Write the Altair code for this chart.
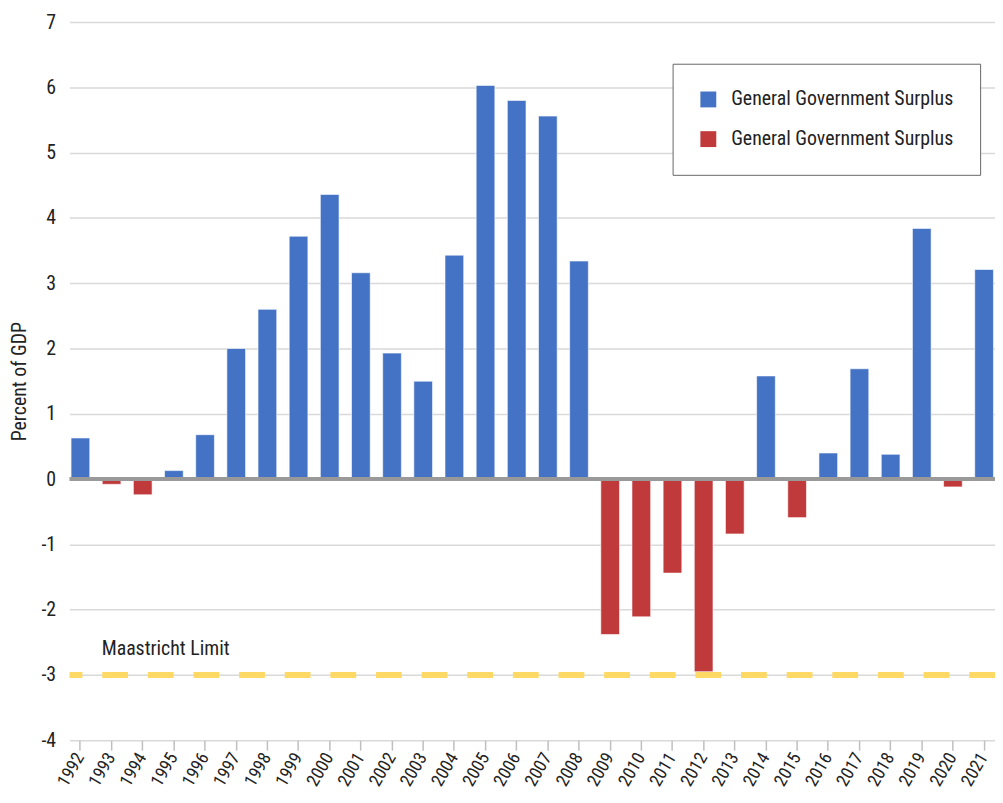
import altair as alt
import pandas as pd

years = [str(y) for y in range(1992, 2022)]
values = [0.63, -0.08, -0.24, 0.13, 0.68, 2.0, 2.6, 3.72, 4.36, 3.16,
          1.93, 1.5, 3.43, 6.03, 5.8, 5.56, 3.34, -2.38, -2.11, -1.44,
          -2.95, -0.84, 1.58, -0.59, 0.4, 1.69, 0.38, 3.84, -0.12, 3.21]
limit = -3
limit_label = "Maastricht Limit"
series_label = "General Government Surplus"

df = pd.DataFrame({"year": years, "value": values})
df["sign"] = ["pos" if v >= 0 else "neg" for v in values]

FONT = "Liberation Sans Narrow, Roboto Condensed, Roboto, sans-serif"

xenc = alt.X("year:N", title=None, sort=years,
             scale=alt.Scale(paddingInner=0.4, paddingOuter=0.05),
             axis=alt.Axis(labelAngle=-60, labelFontSize=18, labelColor="#222",
                           tickColor="#BFBFBF", tickSize=10, tickWidth=1.5, domain=False,
                           labelPadding=4, grid=False, labelOverlap=False))
yscale = alt.Scale(domain=[-4, 7], nice=False)

bars = alt.Chart(df).mark_bar(stroke="white", strokeWidth=0.6).encode(
    x=xenc,
    y=alt.Y("value:Q", scale=yscale, title="Percent of GDP",
            axis=alt.Axis(values=list(range(-4, 8)), grid=True, labelOverlap=False,
                          labelExpr="'' + datum.value",
                          gridColor="#D9D9D9", gridWidth=1.5, domain=False, ticks=False,
                          labelFontSize=20, labelColor="#222", labelPadding=14,
                          titleFontSize=20, titleFontWeight="normal", titleColor="#222",
                          titlePadding=12)),
    color=alt.Color("sign:N", scale=alt.Scale(domain=["pos", "neg"], range=["#4472C4", "#C0393B"]),
                    legend=alt.Legend(title=None, orient="none", legendX=608, legendY=42,
                                      padding=26, strokeColor="#666", fillColor="white",
                                      symbolType="square", symbolSize=256, symbolStrokeWidth=0,
                                      labelFontSize=20, labelColor="#222", rowPadding=20,
                                      labelOffset=13, labelLimit=400,
                                      labelExpr=f"'{series_label}'")),
)

zero = alt.Chart(pd.DataFrame({"v": [0]})).mark_rule(color="#999999", strokeWidth=4).encode(
    y=alt.Y("v:Q", scale=yscale))

lim = alt.Chart(pd.DataFrame({"v": [limit]})).mark_rule(
    color="#FFD966", strokeWidth=6, strokeDash=[26, 20]).encode(y=alt.Y("v:Q", scale=yscale))

txt = alt.Chart(pd.DataFrame({"year": ["1993"], "v": [-2.6], "t": [limit_label]})).mark_text(
    align="left", baseline="middle", fontSize=20, color="#222", dx=-10).encode(
    x=alt.X("year:N", sort=years), y=alt.Y("v:Q", scale=yscale), text="t:N")

chart = alt.layer(bars, zero, lim, txt).properties(
    width=933, height=724,
    autosize=alt.AutoSizeParams(type="none"),
    padding={"left": 62, "top": 11, "right": 0, "bottom": 50},
).configure(font=FONT).configure_view(stroke=None)

chart.save("out.html", embed_options={"renderer": "svg", "actions": False})
